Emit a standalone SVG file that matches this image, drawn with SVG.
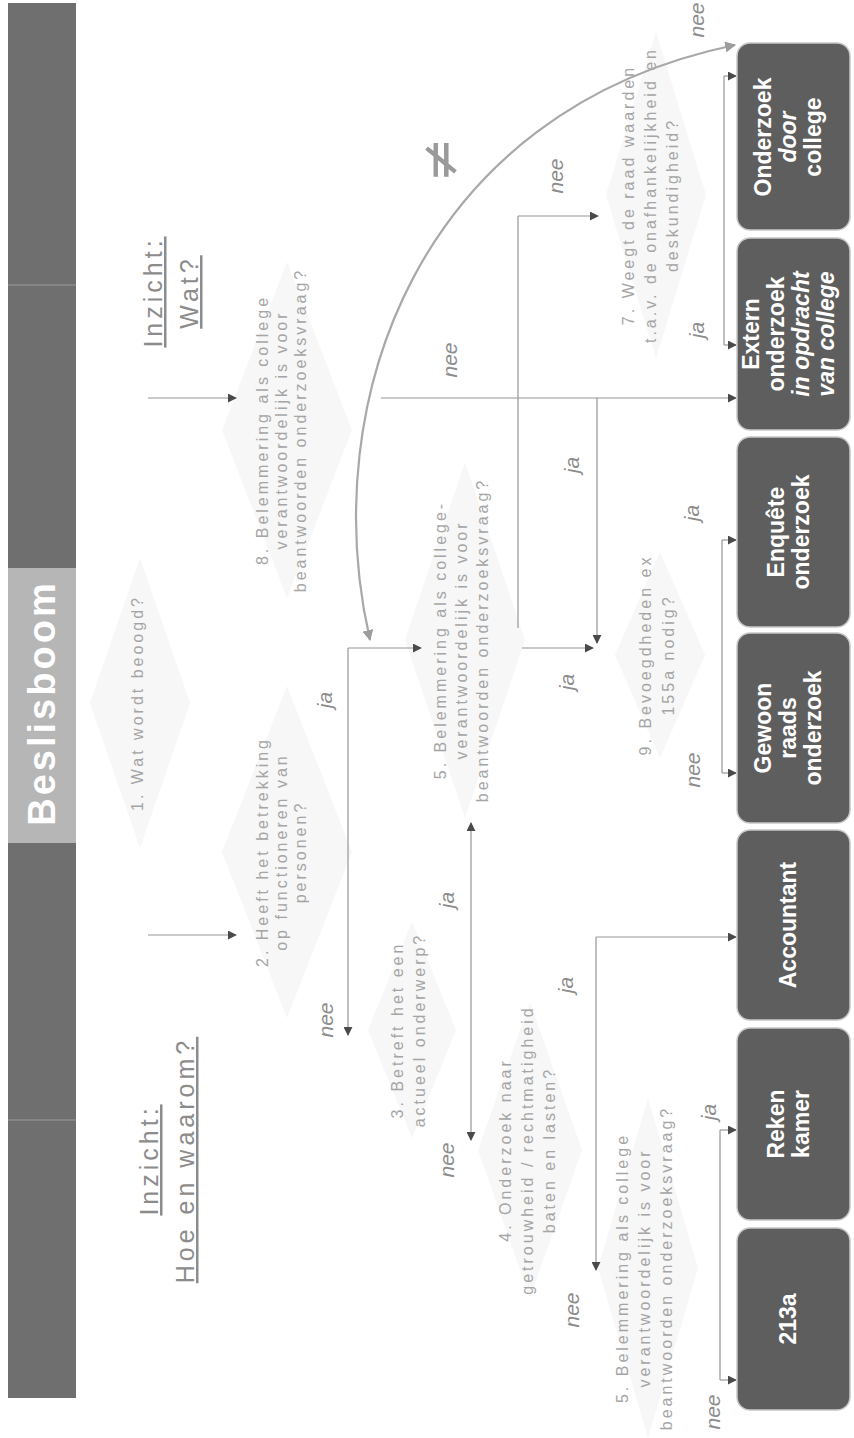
<svg xmlns="http://www.w3.org/2000/svg" width="854" height="1438" viewBox="0 0 854 1438">
<style>
.q{font-family:"Liberation Sans",Arial,sans-serif;font-size:16px;fill:#a5a5a5;letter-spacing:3px;text-anchor:middle}
.lbl{font-family:"Liberation Sans",Arial,sans-serif;font-style:italic;font-size:21px;fill:#8c8c8c;text-anchor:middle}
.bx{font-family:"Liberation Sans",Arial,sans-serif;font-weight:bold;font-size:23px;fill:#ffffff;text-anchor:middle}
.ins{font-family:"Liberation Sans",Arial,sans-serif;font-size:25px;fill:#8c8c8c;text-anchor:middle;text-decoration:underline;letter-spacing:4px}
.box{fill:#5e5e5e;stroke:#c8c8c8;stroke-width:1.5}
.dia{fill:#f7f7f7}
.ln{fill:none;stroke:#959595;stroke-width:1.2}
.arr{fill:none;stroke:#959595;stroke-width:1.2;marker-end:url(#ah)}
.crv{fill:none;stroke:#a8a8a8;stroke-width:2.2}
</style>
<defs>
<marker id="ah" viewBox="0 0 10 10" refX="9" refY="5" markerWidth="9" markerHeight="9" markerUnits="userSpaceOnUse" orient="auto-start-reverse">
<path d="M0,0 L10,5 L0,10 z" fill="#4a4a4a"/>
</marker>
<marker id="ahc" viewBox="0 0 10 10" refX="9" refY="5" markerWidth="11" markerHeight="11" markerUnits="userSpaceOnUse" orient="auto-start-reverse">
<path d="M0,0 L10,5 L0,10 z" fill="#9c9c9c"/>
</marker>
</defs>
<rect x="0" y="0" width="854" height="1438" fill="#ffffff"/>
<g transform="translate(0,1438) rotate(-90)">
  <g id="header">
    <rect x="40" y="8" width="1395" height="68" fill="#6f6f6f"/>
    <rect x="595" y="8" width="275" height="68" fill="#b6b6b6"/>
    <line x1="318" y1="8" x2="318" y2="76" stroke="#8c8c8c" stroke-width="1.5"/>
    <line x1="1153" y1="8" x2="1153" y2="76" stroke="#8c8c8c" stroke-width="1.5"/>
    <text x="735" y="55" font-family="Liberation Sans, Arial, sans-serif" font-size="38" font-weight="bold" letter-spacing="3" fill="#ffffff" text-anchor="middle">Beslisboom</text>
  </g>
  <g id="inzicht-wat">
    <text class="ins" x="1146" y="162">Inzicht:</text>
    <text class="ins" x="1146" y="198">Wat?</text>
  </g>
  <g id="inzicht-hoe">
    <text class="ins" x="278" y="158">Inzicht:</text>
    <text class="ins" x="278" y="194">Hoe en waarom?</text>
  </g>

  <g id="q1">
    <polygon class="dia" points="590,140 735,90 880,140 735,190"/>
    <text class="q" x="735" y="143">1. Wat wordt beoogd?</text>
  </g>
  <g id="q2">
    <polygon class="dia" points="420,287 586,222 752,287 586,352"/>
    <text class="q" x="586" y="268">2. Heeft het betrekking</text>
    <text class="q" x="586" y="287">op functioneren van</text>
    <text class="q" x="586" y="306">personen?</text>
  </g>
  <g id="q8">
    <polygon class="dia" points="840,287 1008,222 1176,287 1008,352"/>
    <text class="q" x="1008" y="268">8. Belemmering als college</text>
    <text class="q" x="1008" y="287">verantwoordelijk is voor</text>
    <text class="q" x="1008" y="306">beantwoorden onderzoeksvraag?</text>
  </g>
  <g id="q5a">
    <polygon class="dia" points="620,465 798,405 976,465 798,525"/>
    <text class="q" x="798" y="446">5. Belemmering als college-</text>
    <text class="q" x="798" y="467">verantwoordelijk is voor</text>
    <text class="q" x="798" y="488">beantwoorden onderzoeksvraag?</text>
  </g>
  <g id="q3">
    <polygon class="dia" points="300,412 408,368 516,412 408,456"/>
    <text class="q" x="408" y="403">3. Betreft het een</text>
    <text class="q" x="408" y="425">actueel onderwerp?</text>
  </g>
  <g id="q4">
    <polygon class="dia" points="140,530 288,478 436,530 288,582"/>
    <text class="q" x="288" y="511">4. Onderzoek naar</text>
    <text class="q" x="288" y="533">getrouwheid / rechtmatigheid</text>
    <text class="q" x="288" y="555">baten en lasten?</text>
  </g>
  <g id="q5b">
    <polygon class="dia" points="0,648 170,598 340,648 170,698"/>
    <text class="q" x="170" y="628">5. Belemmering als college</text>
    <text class="q" x="170" y="650">verantwoordelijk is voor</text>
    <text class="q" x="170" y="672">beantwoorden onderzoeksvraag?</text>
  </g>
  <g id="q9">
    <polygon class="dia" points="680,660 783,615 886,660 783,705"/>
    <text class="q" x="783" y="651">9. Bevoegdheden ex</text>
    <text class="q" x="783" y="674">155a nodig?</text>
  </g>
  <g id="q7">
    <polygon class="dia" points="1080,656 1243,606 1406,656 1243,706"/>
    <text class="q" x="1243" y="634">7. Weegt de raad waarden</text>
    <text class="q" x="1243" y="656">t.a.v. de onafhankelijkheid en</text>
    <text class="q" x="1243" y="678">deskundigheid?</text>
  </g>

  <g id="connectors">
    <path class="arr" d="M503,148 L503,236"/>
    <path class="arr" d="M1040,148 L1040,236"/>
    <path class="arr" d="M790,348 L403,348"/>
    <path class="arr" d="M790,348 L790,421"/>
    <path class="ln" d="M298,471 L615,471" marker-start="url(#ah)" marker-end="url(#ah)"/>
    <path class="arr" d="M501,596 L168,596"/>
    <path class="arr" d="M501,596 L501,736"/>
    <path class="ln" d="M308,720 L58,720"/>
    <path class="arr" d="M308,720 L308,736"/>
    <path class="arr" d="M58,720 L58,736"/>
    <path class="ln" d="M898,722 L665,722"/>
    <path class="arr" d="M898,722 L898,736"/>
    <path class="arr" d="M665,722 L665,736"/>
    <path class="ln" d="M1362,724 L1093,724"/>
    <path class="arr" d="M1362,724 L1362,736"/>
    <path class="arr" d="M1093,724 L1093,736"/>
    <path class="arr" d="M1040,381 L1040,736"/>
    <path class="arr" d="M1040,597 L795,597"/>
    <path class="ln" d="M1222,518 L810,518"/>
    <path class="arr" d="M1222,518 L1222,598"/>
    <path class="arr" d="M790,522 L790,593"/>
    <path class="crv" d="M798,370 C1038,315 1328,420 1393,735" marker-start="url(#ahc)" marker-end="url(#ahc)"/>
    <text x="1278" y="458" font-family="DejaVu Sans, sans-serif" font-size="54" fill="#9a9a9a" text-anchor="middle">≠</text>
  </g>

  <g id="labels">
    <text class="lbl" x="738" y="332">ja</text>
    <text class="lbl" x="418" y="333">nee</text>
    <text class="lbl" x="538" y="454">ja</text>
    <text class="lbl" x="278" y="454">nee</text>
    <text class="lbl" x="453" y="573">ja</text>
    <text class="lbl" x="128" y="579">nee</text>
    <text class="lbl" x="326" y="716">ja</text>
    <text class="lbl" x="26" y="720">nee</text>
    <text class="lbl" x="756" y="574">ja</text>
    <text class="lbl" x="1078" y="457">nee</text>
    <text class="lbl" x="973" y="579">ja</text>
    <text class="lbl" x="1262" y="563">nee</text>
    <text class="lbl" x="925" y="699">ja</text>
    <text class="lbl" x="668" y="700">nee</text>
    <text class="lbl" x="1108" y="704">ja</text>
    <text class="lbl" x="1418" y="704">nee</text>
  </g>

  <g id="box-onderzoek-college">
    <rect class="box" x="1208" y="737" width="187" height="113" rx="13"/>
    <text class="bx" x="1301" y="771">Onderzoek</text>
    <text class="bx" x="1301" y="796" font-style="italic">door</text>
    <text class="bx" x="1301" y="821">college</text>
  </g>
  <g id="box-extern">
    <rect class="box" x="1008" y="737" width="192" height="113" rx="13"/>
    <text class="bx" x="1104" y="759">Extern</text>
    <text class="bx" x="1104" y="784">onderzoek</text>
    <text class="bx" x="1104" y="809" font-style="italic">in opdracht</text>
    <text class="bx" x="1104" y="834" font-style="italic">van college</text>
  </g>
  <g id="box-enquete">
    <rect class="box" x="811" y="737" width="190" height="113" rx="13"/>
    <text class="bx" x="906" y="784">Enquête</text>
    <text class="bx" x="906" y="809">onderzoek</text>
  </g>
  <g id="box-gewoon">
    <rect class="box" x="615" y="737" width="190" height="113" rx="13"/>
    <text class="bx" x="710" y="771">Gewoon</text>
    <text class="bx" x="710" y="796">raads</text>
    <text class="bx" x="710" y="821">onderzoek</text>
  </g>
  <g id="box-accountant">
    <rect class="box" x="418" y="737" width="190" height="113" rx="13"/>
    <text class="bx" x="513" y="796">Accountant</text>
  </g>
  <g id="box-rekenkamer">
    <rect class="box" x="218" y="737" width="192" height="113" rx="13"/>
    <text class="bx" x="314" y="784">Reken</text>
    <text class="bx" x="314" y="809">kamer</text>
  </g>
  <g id="box-213a">
    <rect class="box" x="28" y="737" width="182" height="113" rx="13"/>
    <text class="bx" x="119" y="796">213a</text>
  </g>
</g>
</svg>
